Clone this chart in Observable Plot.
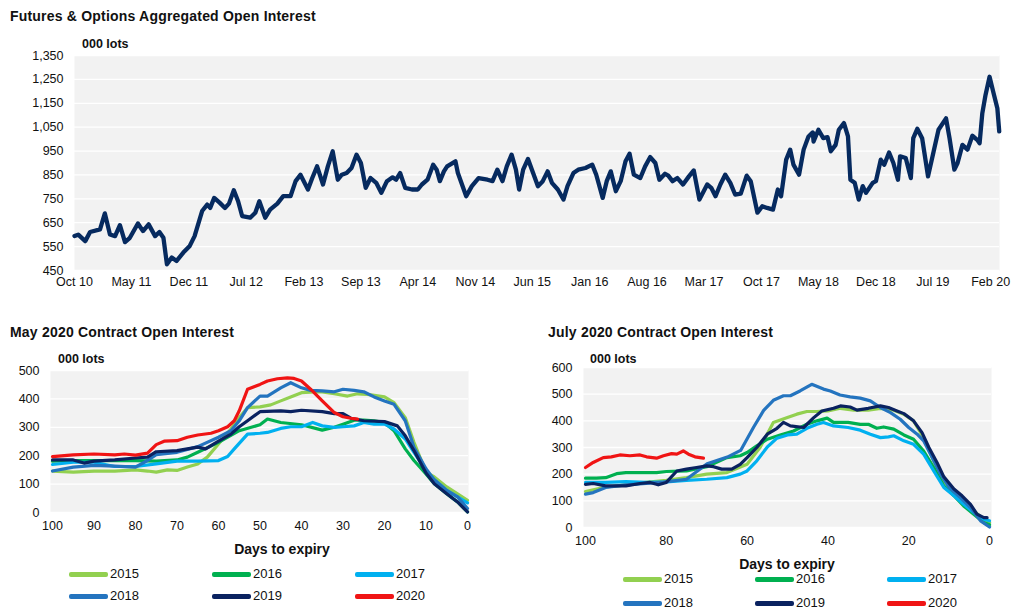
<!DOCTYPE html>
<html><head><meta charset="utf-8">
<script src="https://cdn.jsdelivr.net/npm/d3@7"></script>
<script src="https://cdn.jsdelivr.net/npm/@observablehq/plot@0.6"></script>
<style>
body{margin:0;background:#fff;font-family:"Liberation Sans",Arial,sans-serif;color:#000;}
#root{position:relative;width:1011px;height:612px;overflow:hidden;}
.abs{position:absolute;white-space:nowrap;}
.title{font-weight:bold;font-size:14px;line-height:16px;letter-spacing:0.2px;color:#111;}
.unit{font-weight:bold;font-size:12.5px;line-height:14px;color:#111;}
.xlab{font-weight:bold;font-size:14px;line-height:16px;transform:translateX(-50%);color:#111;}
.leg{font-size:13px;line-height:14px;display:flex;align-items:center;color:#111;}
.sw{display:inline-block;width:39px;height:5px;border-radius:2px;margin-right:2px;}
</style></head><body><div id="root"></div>
<script>
// ---------- Top chart: aggregated open interest (000 lots) ----------
const oiDates = ["2010-10-01","2010-10-15","2010-11-10","2010-11-28","2011-01-04","2011-01-22","2011-02-10","2011-03-01","2011-03-19","2011-04-07","2011-04-25","2011-05-25","2011-06-13","2011-07-04","2011-07-28","2011-08-13","2011-08-28","2011-09-10","2011-09-28","2011-10-16","2011-11-10","2011-12-04","2011-12-22","2012-01-19","2012-02-07","2012-02-18","2012-03-04","2012-03-25","2012-04-13","2012-04-28","2012-05-16","2012-06-01","2012-06-16","2012-07-16","2012-08-04","2012-08-19","2012-09-10","2012-09-28","2012-10-25","2012-11-16","2012-12-13","2013-01-01","2013-01-19","2013-02-16","2013-03-04","2013-03-22","2013-04-13","2013-05-01","2013-05-19","2013-06-07","2013-06-22","2013-07-10","2013-07-28","2013-08-16","2013-09-01","2013-09-19","2013-10-07","2013-10-28","2013-11-16","2013-12-07","2013-12-28","2014-01-10","2014-01-25","2014-02-13","2014-03-10","2014-04-01","2014-04-16","2014-05-07","2014-05-28","2014-06-10","2014-06-22","2014-07-07","2014-07-19","2014-08-19","2014-08-28","2014-09-28","2014-10-19","2014-11-13","2014-12-16","2015-01-04","2015-01-22","2015-02-10","2015-02-26","2015-03-16","2015-04-01","2015-04-13","2015-04-28","2015-05-16","2015-06-04","2015-06-22","2015-07-10","2015-07-28","2015-08-13","2015-09-04","2015-09-25","2015-10-10","2015-11-01","2015-11-19","2015-12-16","2016-01-10","2016-01-25","2016-02-18","2016-03-04","2016-03-19","2016-04-07","2016-04-25","2016-05-13","2016-05-28","2016-06-13","2016-07-07","2016-07-25","2016-08-13","2016-09-01","2016-09-16","2016-10-07","2016-10-19","2016-11-04","2016-11-22","2016-12-13","2017-01-04","2017-01-22","2017-02-12","2017-03-13","2017-03-28","2017-04-13","2017-05-01","2017-05-19","2017-06-07","2017-06-25","2017-07-16","2017-08-07","2017-08-22","2017-09-16","2017-10-04","2017-10-22","2017-11-13","2017-12-01","2017-12-13","2018-01-01","2018-01-16","2018-01-28","2018-02-18","2018-03-07","2018-03-25","2018-04-10","2018-04-13","2018-05-01","2018-05-19","2018-06-04","2018-06-16","2018-07-04","2018-07-16","2018-08-04","2018-08-19","2018-08-28","2018-09-13","2018-09-28","2018-10-13","2018-10-25","2018-11-19","2018-12-01","2018-12-19","2019-01-01","2019-01-19","2019-02-04","2019-02-21","2019-03-01","2019-03-22","2019-04-10","2019-04-19","2019-05-04","2019-05-22","2019-06-13","2019-07-04","2019-07-22","2019-08-19","2019-09-01","2019-09-19","2019-10-01","2019-10-19","2019-11-07","2019-11-25","2019-12-13","2019-12-22","2020-01-01","2020-01-13","2020-01-28","2020-02-12","2020-02-26","2020-03-04"];
const oiValues = [594,600,573,611,622,689,601,594,640,569,587,647,615,643,594,611,587,476,504,490,525,553,594,699,726,712,754,733,712,730,786,740,678,671,692,740,671,705,730,761,761,824,851,789,837,886,810,886,949,830,851,858,879,935,900,796,837,817,775,824,840,830,858,796,789,789,810,830,893,872,824,865,886,907,858,761,803,837,830,824,872,824,886,935,872,789,872,917,858,803,824,865,817,789,747,803,858,872,879,893,851,754,824,865,782,824,907,939,851,837,886,925,900,830,855,847,824,837,810,844,869,747,810,796,761,810,851,817,768,772,847,824,692,719,712,705,789,761,914,956,893,851,956,1011,1028,990,1039,1004,1008,949,976,1039,1067,1011,830,817,747,803,775,817,824,914,893,944,900,830,928,921,837,1004,1043,1004,844,949,1039,1087,1004,872,900,976,956,1014,997,983,1108,1185,1261,1192,1129,1032];
const topYTicks = [450,550,650,750,850,950,1050,1150,1250,1350];
const topXTickLabels = ["2010-10","2011-05","2011-12","2012-07","2013-02","2013-09","2014-04","2014-11","2015-06","2016-01","2016-08","2017-03","2017-10","2018-05","2018-12","2019-07","2020-02"];

// ---------- Bottom charts: contract open interest by days to expiry ----------
const years = ["2015","2016","2017","2018","2019","2020"];
const yearColors = ["#92d050","#00b050","#00b0f0","#2474bf","#0a2260","#f01414"];

const may2015 = [[100,146],[95,142],[90,146],[85,146],[80,150],[77.1,146],[75,142],[72.3,150],[70,148],[67.5,160],[65,171],[62.7,195],[60,241],[57,294],[55,334],[53,369],[50,372],[47.4,379],[45,393],[42.6,407],[40,422],[36.9,425],[35,425],[32.1,418],[28.9,410],[26.5,418],[24.1,416],[20,407],[17.7,387],[15,334],[12.9,247],[10,142],[8,125],[5,90],[2.4,66],[0,43]];
const may2016 = [[100,181],[95,183],[90,183],[85,183],[80,183],[75,181],[70,185],[67.5,195],[65,212],[60,247],[55,288],[50,309],[48.2,329],[45,317],[40,309],[35,290],[32.1,300],[30,311],[27.3,325],[25,325],[22.5,323],[20,317],[17.7,288],[15,224],[12.9,183],[10,136],[8,101],[5,66],[2.4,37],[0,2]];
const may2017 = [[100,169],[95,177],[90,177],[85,162],[80,162],[75,171],[70,181],[65,181],[60,183],[57.8,197],[56.2,224],[53,276],[50,279],[48.2,282],[45,296],[42.6,302],[40,302],[37.3,317],[35,305],[32.1,300],[30,302],[27.3,305],[25,317],[22.5,311],[20,311],[17.7,294],[15,259],[12.9,212],[10,148],[8,115],[5,78],[2.4,55],[0,34]];
const may2018 = [[100,146],[95,160],[90,166],[85,163],[80,160],[77.1,183],[75,204],[70,212],[65,232],[60,265],[57,288],[55,323],[53,369],[50,410],[48.2,410],[45,439],[42.6,457],[40,439],[37.8,430],[35,428],[32.1,425],[30,434],[27.3,430],[25,425],[22.5,407],[20,393],[17.7,381],[15,323],[12.9,230],[10,154],[8,115],[5,78],[2.4,55],[0,14]];
const may2019 = [[100,185],[95,185],[92.4,174],[90,181],[85,185],[80,192],[77.1,195],[75,214],[70,218],[65,230],[63.1,224],[60,251],[57,276],[55,302],[53,323],[50,355],[45,358],[42.6,355],[40,360],[35,355],[32.1,348],[30,348],[28.1,332],[25,323],[20,320],[16.9,305],[15,270],[12.9,218],[10,139],[8,101],[5,66],[2.4,37],[0,2]];
const may2020 = [[100,197],[95,203],[90,206],[85,203],[82.7,206],[80,202],[77.1,209],[75,239],[73.1,251],[70,253],[67.5,265],[65,273],[61.8,279],[60,288],[57.8,302],[56.2,323],[55,358],[53,434],[50,451],[48.2,463],[45.8,471],[43.4,474],[41.8,472],[40,463],[37.8,434],[35,393],[32.1,352],[30,337],[28.1,332],[26.5,329]];

const jul2015 = [[100,135],[95,152],[90,160],[85,169],[80,177],[75,187],[70,200],[65,206],[60,237],[56.8,300],[53.5,394],[50.2,412],[47.7,425],[45.2,435],[42.7,435],[40,437],[36.9,447],[33.6,440],[30,440],[27,447],[23.7,440],[21.2,425],[18.8,400],[16.3,337],[13.8,250],[11.3,175],[8.8,131],[6.4,90],[3.9,62],[1.4,31],[0,19]];
const jul2016 = [[100,185],[97.3,185],[95,187],[92.3,202],[90,206],[85,206],[82.4,206],[80,210],[75,212],[70,228],[65,262],[61.7,269],[60,281],[57.6,306],[55,331],[51.8,347],[48.5,362],[45.2,387],[42.7,400],[40.2,410],[38.6,394],[35,394],[32,387],[30,387],[27.9,372],[26.2,377],[23.7,369],[21.2,347],[18.8,331],[16.3,287],[13.8,225],[11.3,156],[8.8,119],[6.4,81],[3.9,50],[1.4,19],[0,10]];
const jul2017 = [[100,169],[95,169],[90,172],[85,169],[80,171],[75,177],[70,181],[65,187],[61.7,200],[60,212],[57.6,250],[55,302],[52.6,335],[50,347],[47.7,350],[45.2,372],[42.7,387],[41.1,394],[38.6,381],[35,375],[32,365],[29.5,350],[27,337],[25,340],[23.7,344],[21.2,325],[18.8,312],[16.3,275],[13.8,212],[11.3,150],[8.8,119],[6.4,87],[3.9,56],[1.4,31],[0,25]];
const jul2018 = [[100,125],[98.1,131],[95,150],[90,160],[85,165],[80.7,170],[75,181],[69.9,239],[64.9,264],[61.6,289],[58.4,376],[55.9,439],[53.5,477],[51,494],[49.3,494],[46.9,512],[44,537],[41.1,519],[39.4,512],[37,497],[34.5,490],[32,485],[29.5,475],[27,450],[24.5,431],[22.1,406],[20,375],[17.9,350],[16.3,325],[14.6,275],[12.1,200],[10,150],[7.2,112],[4.7,75],[2.2,25],[0,2]];
const jul2019 = [[100,162],[98.1,165],[95,156],[90,156],[86.5,165],[84,169],[82,160],[80,169],[77.4,212],[75,219],[72.5,225],[70,231],[68.3,228],[66.3,219],[63.8,219],[61.7,237],[60,262],[57.6,300],[55,350],[52.6,372],[51,394],[49.3,381],[46,375],[43.5,412],[41.5,437],[38.6,447],[36.9,456],[34.5,452],[32.8,440],[30,447],[27,456],[25,450],[22.9,437],[21.2,427],[18.8,400],[16.7,356],[15,300],[13,244],[11.3,190],[8.8,144],[6.8,119],[4.7,87],[3.1,50],[1.4,37],[0.6,37]];
const jul2020 = [[100,225],[98.1,244],[95.6,262],[93.6,265],[91.5,272],[89,269],[86.5,272],[84.9,265],[82.4,260],[80.7,269],[78.7,277],[77.4,275],[75.8,287],[74.5,275],[72.9,265],[70.8,260]];

const mayYTicks = [0,100,200,300,400,500];
const mayXTicks = [100,90,80,70,60,50,40,30,20,10,0];
const julYTicks = [0,100,200,300,400,500,600];
const julXTicks = [100,80,60,40,20,0];

// ---------- build ----------
const root = document.getElementById("root");
function addDiv(cls, text, left, top, extra) {
  const d = document.createElement("div");
  d.className = "abs " + cls;
  d.textContent = text;
  d.style.left = left + "px";
  d.style.top = top + "px";
  if (extra) Object.assign(d.style, extra);
  root.appendChild(d);
  return d;
}
function place(svg, left, top) {
  const w = document.createElement("div");
  w.className = "abs";
  w.style.left = left + "px";
  w.style.top = top + "px";
  w.appendChild(svg);
  root.appendChild(w);
}
const plotStyle = {fontFamily: "'Liberation Sans', Arial, sans-serif", fontSize: "12.5px", color: "#111", background: "transparent", overflow: "visible"};

const aggData = oiDates.map((d, i) => ({date: new Date(d + "T00:00:00Z"), value: oiValues[i]}));
const topXTicks = topXTickLabels.map(s => new Date(s + "-01T00:00:00Z"));

const topPlot = Plot.plot({
  width: 1011, height: 265,
  marginLeft: 74, marginRight: 12, marginTop: 25, marginBottom: 25,
  style: plotStyle,
  x: {type: "utc", domain: [new Date("2010-10-01T00:00:00Z"), new Date("2020-03-05T00:00:00Z")]},
  y: {domain: [450, 1350]},
  marks: [
    Plot.frame({fill: "#f2f2f2", stroke: null}),
    Plot.gridY(topYTicks, {stroke: "#ffffff", strokeOpacity: 1, strokeWidth: 1.3}),
    Plot.axisY(topYTicks, {tickSize: 0, tickPadding: 11, tickFormat: d3.format(","), label: null}),
    Plot.axisX(topXTicks, {tickSize: 0, tickPadding: 7, tickFormat: d3.utcFormat("%b %y"), label: null}),
    Plot.line(aggData, {x: "date", y: "value", stroke: "#062a5f", strokeWidth: 4.3, strokeLinejoin: "round", strokeLinecap: "round"})
  ]
});
place(topPlot, 0, 30);
addDiv("title", "Futures & Options Aggregated Open Interest", 10, 8);
addDiv("unit", "000 lots", 82, 37);

function rowsFrom(series) {
  const out = [];
  series.forEach((s, i) => s.forEach(([day, value]) => out.push({year: years[i], day, value})));
  return out;
}

function contractPlot(series, opts) {
  return Plot.plot({
    width: opts.width, height: opts.height,
    marginLeft: opts.ml, marginRight: opts.mr, marginTop: 20, marginBottom: 30,
    style: plotStyle,
    x: {domain: [100, 0], insetLeft: opts.il, insetRight: opts.ir},
    y: {domain: opts.ydomain},
    color: {domain: years, range: yearColors},
    marks: [
      Plot.frame({fill: "#f2f2f2", stroke: null}),
      Plot.gridY(opts.yticks, {stroke: "#ffffff", strokeOpacity: 1, strokeWidth: 1.3}),
      Plot.axisY(opts.yticks, {tickSize: 0, tickPadding: 11, label: null}),
      Plot.axisX(opts.xticks, {tickSize: 0, tickPadding: 9, label: null}),
      Plot.line(rowsFrom(series), {x: "day", y: "value", z: "year", stroke: "year", strokeWidth: 3.2, strokeLinejoin: "round", strokeLinecap: "round"})
    ]
  });
}

const mayPlot = contractPlot([may2015, may2016, may2017, may2018, may2019, may2020],
  {width: 490, height: 192, ml: 50, mr: 22, il: 2, ir: 1, ydomain: [0, 500], yticks: mayYTicks, xticks: mayXTicks});
place(mayPlot, 0, 350);
addDiv("title", "May 2020 Contract Open Interest", 10, 324);
addDiv("unit", "000 lots", 58, 352);
addDiv("xlab", "Days to expiry", 282, 541);

const julPlot = contractPlot([jul2015, jul2016, jul2017, jul2018, jul2019, jul2020],
  {width: 471, height: 210, ml: 43, mr: 20, il: 2, ir: 2, ydomain: [0, 600], yticks: julYTicks, xticks: julXTicks});
place(julPlot, 540, 347);
addDiv("title", "July 2020 Contract Open Interest", 548, 324);
addDiv("unit", "000 lots", 590, 352);
addDiv("xlab", "Days to expiry", 787, 556);

function legend(colLefts, rowTops) {
  years.forEach((y, i) => {
    const d = addDiv("leg", "", colLefts[i % 3], rowTops[Math.floor(i / 3)]);
    const sw = document.createElement("span");
    sw.className = "sw";
    sw.style.background = yearColors[i];
    d.appendChild(sw);
    d.appendChild(document.createTextNode(y));
  });
}
legend([69, 212, 355], [567, 589]);
legend([623, 755, 887], [572, 596]);
</script></body></html>
